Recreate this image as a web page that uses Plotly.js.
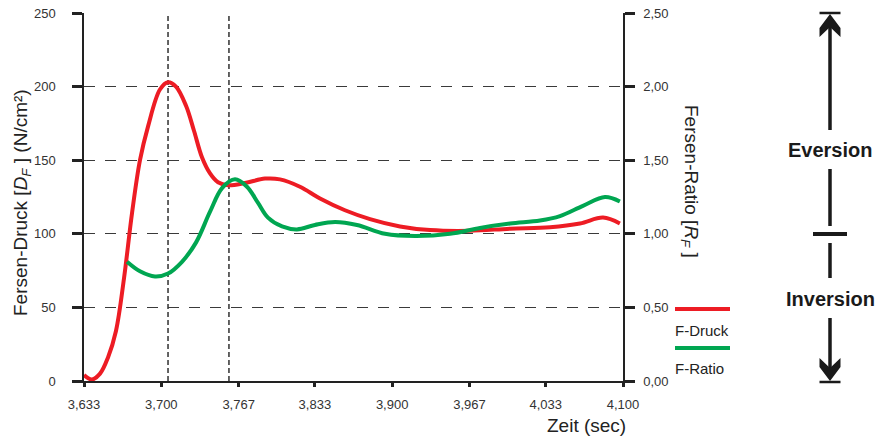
<!DOCTYPE html>
<html>
<head>
<meta charset="utf-8">
<script src="https://cdn.plot.ly/plotly-3.0.1.min.js"></script>
<style>
  html, body { margin: 0; padding: 0; background: #ffffff; }
  #chart { width: 877px; height: 437px; }
</style>
</head>
<body>
<div id="chart"></div>
<script>
// Heel pressure (left axis, N/cm²) over time
const druckZeit = [3.6330, 3.6399, 3.6469, 3.6538, 3.6607, 3.6677, 3.6746, 3.6815, 3.6885, 3.6988,
                   3.7058, 3.7127, 3.7214, 3.7283, 3.7352, 3.7422, 3.7491, 3.7578, 3.7725, 3.7898,
                   3.8028, 3.8201, 3.8375, 3.8591, 3.8808, 3.9068, 3.9328, 3.9674, 4.0021, 4.0368,
                   4.0627, 4.0827, 4.0973];
const druckWerte = [4, 1, 5, 16, 34, 70, 114, 150, 173, 198,
                    203, 200, 187, 170, 152, 141, 135, 133, 134.5, 137.5,
                    137, 132, 124, 116, 110, 105, 102.5, 102, 103.5, 104.5,
                    107, 111, 107];

// Heel ratio (right axis) over time
const ratioZeit = [3.6703, 3.6815, 3.6945, 3.7058, 3.7179, 3.7300, 3.7422, 3.7526, 3.7638, 3.7742,
                   3.7838, 3.7924, 3.8046, 3.8175, 3.8331, 3.8505, 3.8695, 3.8938, 3.9198, 3.9501,
                   3.9761, 4.0021, 4.0281, 4.0454, 4.0653, 4.0844, 4.0973];
const ratioWerte = [0.81, 0.745, 0.71, 0.73, 0.81, 0.94, 1.15, 1.31, 1.37, 1.32,
                    1.21, 1.11, 1.05, 1.03, 1.06, 1.08, 1.06, 1.00, 0.985, 1.00,
                    1.04, 1.07, 1.09, 1.12, 1.19, 1.25, 1.22];

// Reference instants (dashed verticals)
const markZeiten = [3.7058, 3.7586];

// Axis ticks
const zeitTicks = [3.633, 3.700, 3.767, 3.833, 3.900, 3.967, 4.033, 4.100];
const zeitLabels = ['3,633', '3,700', '3,767', '3,833', '3,900', '3,967', '4,033', '4,100'];
const druckTicks = [0, 50, 100, 150, 200, 250];
const druckLabels = ['0', '50', '100', '150', '200', '250'];
const ratioTicks = [0, 0.5, 1.0, 1.5, 2.0, 2.5];
const ratioLabels = ['0,00', '0,50', '1,00', '1,50', '2,00', '2,50'];

const serienNamen = ['F-Druck', 'F-Ratio'];
const farben = ['#ED1C24', '#00A651'];

const W = 877, H = 437;
const M = { l: 84, r: 254, t: 13, b: 56 };
// canvas pixel -> paper coordinate helpers for the decorations outside the plot
const px = x => (x - M.l) / (W - M.l - M.r);
const py = y => (H - M.b - y) / (H - M.t - M.b);

const FONT = 'Liberation Sans, Arial, sans-serif';
const INK = '#222222';

const traces = [
  {
    x: druckZeit, y: druckWerte, name: serienNamen[0], yaxis: 'y',
    mode: 'lines', line: { color: farben[0], width: 4, shape: 'spline', smoothing: 1 },
    hoverinfo: 'skip', showlegend: false
  },
  {
    x: ratioZeit, y: ratioWerte, name: serienNamen[1], yaxis: 'y2',
    mode: 'lines', line: { color: farben[1], width: 4, shape: 'spline', smoothing: 1 },
    hoverinfo: 'skip', showlegend: false
  }
];

const shapes = [];
markZeiten.forEach(t => shapes.push({
  type: 'line', xref: 'x', yref: 'paper', x0: t, x1: t, y0: 0, y1: 1,
  line: { color: '#111111', width: 1.3, dash: '5px,3px' }, layer: 'below'
}));

// legend swatches
[309, 348].forEach((yy, i) => shapes.push({
  type: 'line', xref: 'paper', yref: 'paper', x0: px(675), x1: px(730), y0: py(yy), y1: py(yy),
  line: { color: farben[i], width: 4 }
}));

// Eversion / Inversion scale arrow
const ax = 830;
const bar = (y, half, w) => ({ type: 'line', xref: 'paper', yref: 'paper',
  x0: px(ax - half), x1: px(ax + half), y0: py(y), y1: py(y), line: { color: '#1a1a1a', width: w } });
const shaft = (a, b) => ({ type: 'line', xref: 'paper', yref: 'paper',
  x0: px(ax), x1: px(ax), y0: py(a), y1: py(b), line: { color: '#1a1a1a', width: 3.5 } });
shapes.push(bar(13, 10.5, 2.5));
shapes.push(shaft(18, 130));
shapes.push(shaft(169, 226));
shapes.push(bar(234, 17, 4));
shapes.push(shaft(243, 278));
shapes.push(shaft(318, 375));
shapes.push(bar(382, 10.5, 2.5));
const poly = pts => 'M ' + pts.map(p => px(p[0]) + ',' + py(p[1])).join(' L ') + ' Z';
shapes.push({ type: 'path', xref: 'paper', yref: 'paper', fillcolor: '#1a1a1a', line: { width: 0 },
  path: poly([[ax, 14], [ax + 10.5, 28], [ax + 10.5, 37], [ax, 27], [ax - 10.5, 37], [ax - 10.5, 28]]) });
shapes.push({ type: 'path', xref: 'paper', yref: 'paper', fillcolor: '#1a1a1a', line: { width: 0 },
  path: poly([[ax, 381], [ax + 10.5, 367], [ax + 10.5, 358], [ax, 368], [ax - 10.5, 358], [ax - 10.5, 367]]) });

const annotations = [
  { text: 'Fersen-Druck [<i>D</i><sub><i>F</i></sub> ] (N/cm²)', xref: 'paper', yref: 'paper',
    x: px(22), y: py(203), textangle: -90, showarrow: false, xanchor: 'center', yanchor: 'middle',
    font: { family: FONT, size: 19, color: INK } },
  { text: 'Fersen-Ratio [<i>R</i><sub><i>F</i></sub> ]', xref: 'paper', yref: 'paper',
    x: px(690), y: py(181), textangle: 90, showarrow: false, xanchor: 'center', yanchor: 'middle',
    font: { family: FONT, size: 19, color: INK } },
  { text: 'Zeit (sec)', xref: 'paper', yref: 'paper', x: px(586), y: py(425), showarrow: false,
    xanchor: 'center', yanchor: 'middle', font: { family: FONT, size: 19, color: INK } },
  { text: serienNamen[0], xref: 'paper', yref: 'paper', x: px(673), y: py(330), showarrow: false,
    xanchor: 'left', yanchor: 'middle', font: { family: FONT, size: 15, color: INK } },
  { text: serienNamen[1], xref: 'paper', yref: 'paper', x: px(673), y: py(368), showarrow: false,
    xanchor: 'left', yanchor: 'middle', font: { family: FONT, size: 15, color: INK } },
  { text: '<b>Eversion</b>', xref: 'paper', yref: 'paper', x: px(ax), y: py(150), showarrow: false,
    xanchor: 'center', yanchor: 'middle', font: { family: FONT, size: 20, color: '#1a1a1a' } },
  { text: '<b>Inversion</b>', xref: 'paper', yref: 'paper', x: px(ax), y: py(299), showarrow: false,
    xanchor: 'center', yanchor: 'middle', font: { family: FONT, size: 20, color: '#1a1a1a' } }
];

const layout = {
  width: W, height: H,
  margin: M,
  paper_bgcolor: '#ffffff', plot_bgcolor: '#ffffff',
  showlegend: false,
  font: { family: FONT, size: 13, color: '#333333' },
  xaxis: {
    range: [3.633, 4.100], tickmode: 'array', tickvals: zeitTicks, ticktext: zeitLabels,
    showgrid: false, zeroline: false, showline: true, linecolor: INK, linewidth: 1.6,
    ticks: 'outside', ticklen: 4, tickwidth: 3, tickcolor: INK,
    tickfont: { family: FONT, size: 13, color: '#333333' }, ticklabelstandoff: 7
  },
  yaxis: {
    range: [0, 250], tickmode: 'array', tickvals: druckTicks, ticktext: druckLabels,
    showgrid: true, gridcolor: '#3a3a3a', gridwidth: 1.3, griddash: '11px,10px',
    zeroline: false, showline: true, linecolor: INK, linewidth: 1.6,
    ticks: 'outside', ticklen: 10, tickwidth: 3, tickcolor: INK,
    tickfont: { family: FONT, size: 13, color: '#333333' }, ticklabelstandoff: 14
  },
  yaxis2: {
    range: [0, 2.5], overlaying: 'y', side: 'right', tickmode: 'array', tickvals: ratioTicks, ticktext: ratioLabels,
    showgrid: false, zeroline: false, showline: true, linecolor: INK, linewidth: 1.6,
    ticks: 'outside', ticklen: 10, tickwidth: 3, tickcolor: INK,
    tickfont: { family: FONT, size: 13, color: '#333333' }, ticklabelstandoff: 6
  },
  shapes: shapes,
  annotations: annotations
};

Plotly.newPlot('chart', traces, layout, { staticPlot: true, displayModeBar: false });
</script>
</body>
</html>
